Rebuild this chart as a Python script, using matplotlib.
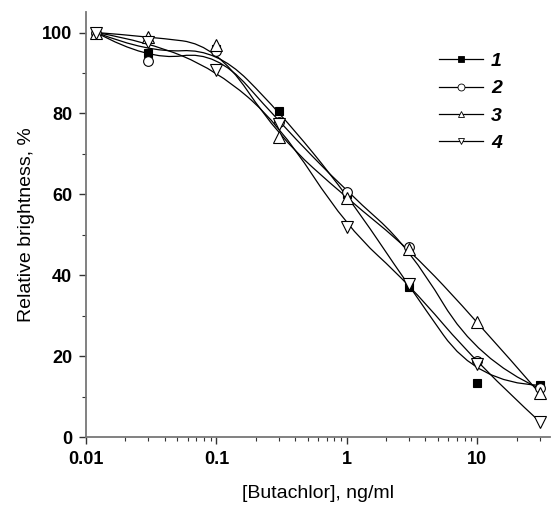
import numpy as np
import matplotlib
matplotlib.use("Agg")
import matplotlib.pyplot as plt
from matplotlib.path import Path
from matplotlib.patches import PathPatch
from matplotlib.lines import Line2D
from matplotlib.ticker import FixedLocator, NullFormatter

plt.rcParams['font.family'] = ['Liberation Sans', 'DejaVu Sans']

# concentrations, ng/ml
conc = [0.012, 0.03, 0.1, 0.3, 1, 3, 10, 30]
labels = ["1", "2", "3", "4"]
s1 = [100, 95.0, 96.0, 80.6, 60.0, 37.2, 13.3, 12.8]
s2 = [100, 93.0, 95.5, 78.0, 60.6, 47.0, 18.9, 12.0]
s3 = [100, 99.0, 96.9, 74.2, 59.0, 46.5, 28.5, 10.8]
s4 = [100, 97.7, 90.7, 77.5, 51.8, 37.8, 18.0, 3.8]
series = [s1, s2, s3, s4]
markers = ['s', 'o', '^', 'v']
faces = ['black', 'white', 'white', 'white']
msizes = [6, 7, 8, 8]
x_ticks = [0.01, 0.1, 1, 10]
x_ticklabels = ["0.01", "0.1", "1", "10"]
y_ticks = [0, 20, 40, 60, 80, 100]

fig = plt.figure(figsize=(5.51, 5.05), dpi=100)
ax = fig.add_axes([86/551, 68/505, 464/551, 424.7/505])
ax.set_xscale('log')
ax.set_xlim(0.01, 36)
ax.set_ylim(0, 105)


def bspline_path(xs, ys):
    # clamped quadratic B-spline with the data points as control points
    pts = list(zip(xs, ys))
    verts = [pts[0]]
    codes = [Path.MOVETO]
    n = len(pts)
    for i in range(1, n - 1):
        if i < n - 2:
            lx = 0.5 * (np.log10(pts[i][0]) + np.log10(pts[i + 1][0]))
            end = (10 ** lx, 0.5 * (pts[i][1] + pts[i + 1][1]))
        else:
            end = pts[n - 1]
        verts += [pts[i], end]
        codes += [Path.CURVE3, Path.CURVE3]
    return Path(verts, codes)


for s, m, fc, ms in zip(series, markers, faces, msizes):
    patch = PathPatch(bspline_path(conc, s), facecolor='none', edgecolor='black',
                      lw=0.9, transform=ax.transData, zorder=2)
    ax.add_patch(patch)
    ax.plot(conc, s, linestyle='none', marker=m, markersize=ms,
            markerfacecolor=fc, markeredgecolor='black', markeredgewidth=0.8, zorder=3)

for sp in ['top', 'right']:
    ax.spines[sp].set_visible(False)
for sp in ['left', 'bottom']:
    ax.spines[sp].set_color('#777777')
    ax.spines[sp].set_linewidth(1.3)

ax.xaxis.set_major_locator(FixedLocator(x_ticks))
ax.set_xticklabels(x_ticklabels)
ax.xaxis.set_minor_formatter(NullFormatter())
ax.set_yticks(y_ticks)
ax.yaxis.set_minor_locator(FixedLocator([10, 30, 50, 70, 90]))
ax.tick_params(which='major', direction='out', length=5, width=1, color='#333333',
               labelsize=13, pad=5)
ax.tick_params(which='minor', direction='out', length=3, width=0.8, color='#333333')
for t in ax.get_xticklabels() + ax.get_yticklabels():
    t.set_fontweight('bold')

ax.set_xlabel('[Butachlor], ng/ml', fontsize=14, labelpad=12)
ax.set_ylabel('Relative brightness, %', fontsize=14, labelpad=5)

handles = [Line2D([], [], color='black', lw=0.9, marker=m, markersize=5,
                  markerfacecolor=fc, markeredgecolor='black', markeredgewidth=0.6)
           for m, fc in zip(markers, faces)]
leg = ax.legend(handles, labels, loc='upper left', bbox_to_anchor=(421/551, 1 - 35/505),
                bbox_transform=fig.transFigure, frameon=False, handlelength=2.3,
                handletextpad=0.4, labelspacing=0.5,
                prop={'weight': 'bold', 'style': 'italic', 'size': 14})

fig.savefig('out.png', dpi=100)
